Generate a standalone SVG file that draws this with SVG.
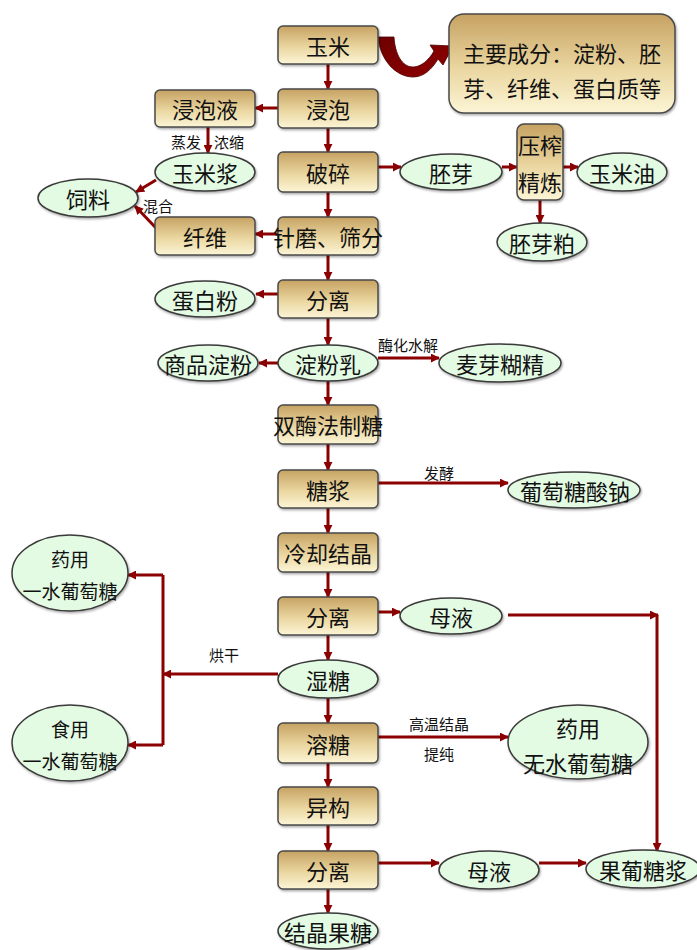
<svg xmlns="http://www.w3.org/2000/svg" width="697" height="950" viewBox="0 0 697 950">
<defs>
<linearGradient id="gBox" x1="0" y1="0" x2="0" y2="1">
<stop offset="0" stop-color="#c6a262"/>
<stop offset="0.55" stop-color="#ead6a0"/>
<stop offset="1" stop-color="#fcf5d6"/>
</linearGradient>
<linearGradient id="gArc" x1="0" y1="0" x2="1" y2="1">
<stop offset="0" stop-color="#6e0000"/>
<stop offset="1" stop-color="#900000"/>
</linearGradient>
<filter id="sh" x="-10%" y="-10%" width="130%" height="140%">
<feDropShadow dx="1" dy="1.5" stdDeviation="1" flood-color="#000" flood-opacity="0.35"/>
</filter>
<marker id="ar" viewBox="0 0 10 10" refX="9" refY="5" markerWidth="9" markerHeight="9" markerUnits="userSpaceOnUse" orient="auto">
<path d="M0,0 L10,5 L0,10 z" fill="#8b0000"/>
</marker>
</defs>
<style>
.box{fill:url(#gBox);stroke:#4a4a4a;stroke-width:1.5;filter:url(#sh)}
.ell{fill:#e3fae3;stroke:#3a3a3a;stroke-width:1.5;filter:url(#sh)}
text{font-family:"Noto Sans CJK SC","Noto Sans",sans-serif;fill:#111;text-anchor:middle;dominant-baseline:central}
.t{font-size:22px}
.m{font-size:19px}
.s{font-size:15px}
.c{fill:none;stroke:#8b0000;stroke-width:3;marker-end:url(#ar)}
.l{fill:none;stroke:#8b0000;stroke-width:3}
</style>

<g id="connectors">
<path class="c" d="M328,64 V89"/>
<path class="c" d="M328,128 V152"/>
<path class="c" d="M328,192 V217"/>
<path class="c" d="M328,255 V280"/>
<path class="c" d="M328,318 V345"/>
<path class="c" d="M328,381 V405"/>
<path class="c" d="M328,444 V470"/>
<path class="c" d="M328,508 V533"/>
<path class="c" d="M328,572 V597"/>
<path class="c" d="M328,635 V660"/>
<path class="c" d="M328,698 V723"/>
<path class="c" d="M328,763 V787"/>
<path class="c" d="M328,825 V851"/>
<path class="c" d="M328,889 V913"/>
<path class="c" d="M278,108 H255"/>
<path class="c" d="M208,127 V153"/>
<path class="c" d="M156,180 L136,192"/>
<path class="c" d="M156,228 L135,206"/>
<path class="c" d="M278,234 H255"/>
<path class="c" d="M378,167 H401"/>
<path class="c" d="M502,167 H517"/>
<path class="c" d="M563,167 H578"/>
<path class="c" d="M540,200 V223"/>
<path class="c" d="M278,294 H256"/>
<path class="c" d="M278,363 H259"/>
<path class="c" d="M378,358 H439"/>
<path class="c" d="M378,483 H508"/>
<path class="c" d="M378,612 H400"/>
<path class="c" d="M508,615 H658"/>
<path class="c" d="M657,615 V851"/>
<path class="c" d="M278,674 H163"/>
<path class="l" d="M163,575 V745"/>
<path class="c" d="M163,575 H128"/>
<path class="c" d="M163,745 H128"/>
<path class="c" d="M378,737 H508"/>
<path class="c" d="M378,863 H439"/>
<path class="c" d="M539,863 H586"/>
<path d="M378,37 C380,60 396,77 413,77 C424,77 432,69 438,59 L443,65 L453,46 L430,45 L434,51 C429,60 421,67 413,67 C402,67 395,54 394,37 Z" fill="url(#gArc)" stroke="#4a0000" stroke-width="0.8"/>
</g>

<g id="labels">
<text class="s" x="186" y="141">蒸发</text>
<text class="s" x="229" y="141">浓缩</text>
<text class="s" x="158" y="205">混合</text>
<text class="s" x="408" y="344">酶化水解</text>
<text class="s" x="439" y="472">发酵</text>
<text class="s" x="224" y="654">烘干</text>
<text class="s" x="439" y="723">高温结晶</text>
<text class="s" x="439" y="753">提纯</text>
</g>

<g id="n-yumi"><rect class="box" x="278" y="26" width="100" height="38" rx="5"/><text class="t" x="328" y="45">玉米</text></g>
<g id="n-info"><rect class="box" x="449" y="14" width="226" height="99" rx="15"/><text class="t" x="562" y="52">主要成分：淀粉、胚</text><text class="t" x="562" y="87">芽、纤维、蛋白质等</text></g>
<g id="n-jinpao"><rect class="box" x="278" y="89" width="100" height="39" rx="5"/><text class="t" x="328" y="108">浸泡</text></g>
<g id="n-jinpaoye"><rect class="box" x="155" y="90" width="100" height="37" rx="5"/><text class="t" x="205" y="108">浸泡液</text></g>
<g id="n-yumijiang"><ellipse class="ell" cx="205" cy="172" rx="50" ry="19"/><text class="t" x="205" y="172">玉米浆</text></g>
<g id="n-siliao"><ellipse class="ell" cx="88" cy="198" rx="50" ry="19"/><text class="t" x="88" y="198">饲料</text></g>
<g id="n-posui"><rect class="box" x="278" y="152" width="100" height="40" rx="5"/><text class="t" x="328" y="172">破碎</text></g>
<g id="n-peiya"><ellipse class="ell" cx="451" cy="172" rx="51" ry="18"/><text class="t" x="451" y="172">胚芽</text></g>
<g id="n-yazha"><rect class="box" x="517" y="124" width="46" height="76" rx="7"/><text class="t" x="540" y="144">压榨</text><text class="t" x="540" y="181">精炼</text></g>
<g id="n-yumiyou"><ellipse class="ell" cx="622" cy="172" rx="45" ry="19"/><text class="t" x="622" y="172">玉米油</text></g>
<g id="n-peiyapo"><ellipse class="ell" cx="542" cy="242" rx="45" ry="19"/><text class="t" x="542" y="242">胚芽粕</text></g>
<g id="n-xianwei"><rect class="box" x="155" y="217" width="100" height="38" rx="5"/><text class="t" x="205" y="236">纤维</text></g>
<g id="n-zhenmo"><rect class="box" x="278" y="217" width="100" height="38" rx="5"/><text class="t" x="328" y="236">针磨、筛分</text></g>
<g id="n-fenli1"><rect class="box" x="278" y="280" width="100" height="38" rx="5"/><text class="t" x="328" y="299">分离</text></g>
<g id="n-danbaifen"><ellipse class="ell" cx="205" cy="299" rx="50" ry="18"/><text class="t" x="205" y="299">蛋白粉</text></g>
<g id="n-dianfenru"><ellipse class="ell" cx="328" cy="363" rx="50" ry="18"/><text class="t" x="328" y="363">淀粉乳</text></g>
<g id="n-shangpin"><ellipse class="ell" cx="208" cy="363" rx="50" ry="18"/><text class="t" x="208" y="363">商品淀粉</text></g>
<g id="n-maiya"><ellipse class="ell" cx="500" cy="363" rx="61" ry="19"/><text class="t" x="500" y="363">麦芽糊精</text></g>
<g id="n-shuangmei"><rect class="box" x="278" y="405" width="100" height="39" rx="5"/><text class="t" x="328" y="424">双酶法制糖</text></g>
<g id="n-tangjiang"><rect class="box" x="278" y="470" width="100" height="38" rx="5"/><text class="t" x="328" y="489">糖浆</text></g>
<g id="n-putaotangsuanna"><ellipse class="ell" cx="574" cy="490" rx="66" ry="18"/><text class="t" x="575" y="490">葡萄糖酸钠</text></g>
<g id="n-lengque"><rect class="box" x="278" y="533" width="100" height="39" rx="5"/><text class="t" x="328" y="552">冷却结晶</text></g>
<g id="n-fenli2"><rect class="box" x="278" y="597" width="100" height="38" rx="5"/><text class="t" x="328" y="616">分离</text></g>
<g id="n-muye1"><ellipse class="ell" cx="451" cy="616" rx="51" ry="18"/><text class="t" x="451" y="616">母液</text></g>
<g id="n-yaoyong1"><ellipse class="ell" cx="70" cy="573" rx="58" ry="38"/><text class="m" x="70" y="558">药用</text><text class="m" x="70" y="590">一水葡萄糖</text></g>
<g id="n-shitang"><ellipse class="ell" cx="328" cy="679" rx="50" ry="19"/><text class="t" x="328" y="679">湿糖</text></g>
<g id="n-shiyong"><ellipse class="ell" cx="70" cy="743" rx="58" ry="38"/><text class="m" x="70" y="728">食用</text><text class="m" x="70" y="760">一水葡萄糖</text></g>
<g id="n-rongtang"><rect class="box" x="278" y="723" width="100" height="40" rx="5"/><text class="t" x="328" y="743">溶糖</text></g>
<g id="n-yaoyong2"><ellipse class="ell" cx="578" cy="742" rx="70" ry="37"/><text class="t" x="578" y="727">药用</text><text class="t" x="578" y="762">无水葡萄糖</text></g>
<g id="n-yigou"><rect class="box" x="278" y="787" width="100" height="38" rx="5"/><text class="t" x="328" y="806">异构</text></g>
<g id="n-fenli3"><rect class="box" x="278" y="851" width="100" height="38" rx="5"/><text class="t" x="328" y="870">分离</text></g>
<g id="n-muye2"><ellipse class="ell" cx="489" cy="870" rx="50" ry="19"/><text class="t" x="489" y="870">母液</text></g>
<g id="n-guoputangjiang"><ellipse class="ell" cx="643" cy="869" rx="57" ry="19"/><text class="t" x="643" y="869">果葡糖浆</text></g>
<g id="n-jiejingguotang"><ellipse class="ell" cx="328" cy="931" rx="50" ry="18"/><text class="t" x="328" y="931">结晶果糖</text></g>
</svg>
